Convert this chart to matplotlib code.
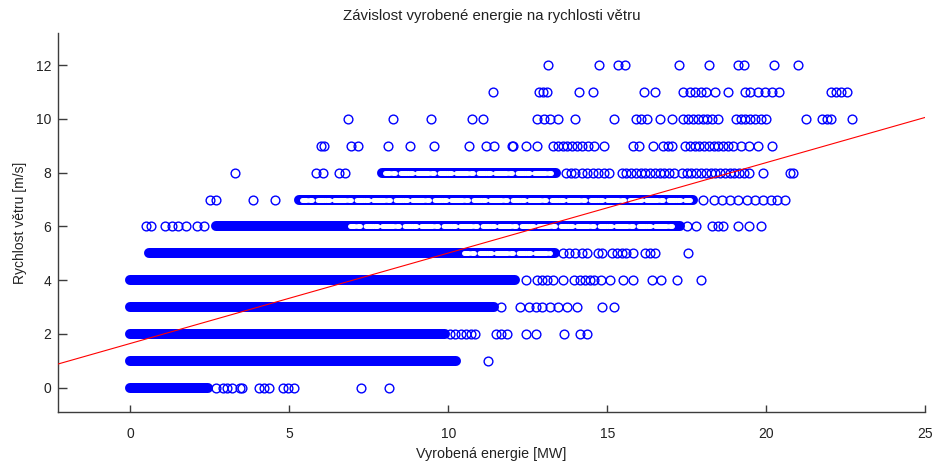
import matplotlib
matplotlib.use("Agg")
import matplotlib.pyplot as plt
import numpy as np

plt.rcParams["font.family"] = ["Liberation Sans", "DejaVu Sans"]

# wind speed rows (m/s) that hold a dense, fully overlapping run of circles
dense_speed = [0, 1, 2, 3, 4, 5, 6, 7, 8]
dense_start = [0.0, 0.0, 0.0, 0.0, 0.0, 0.57, 2.7, 5.3, 7.9]
dense_end = [2.45, 10.25, 9.9, 11.45, 12.1, 13.35, 17.3, 17.7, 13.4]

# parts of those runs where the circles only partly overlap (outlines still visible)
semi_speed = [5, 6, 7, 8]
semi_start = [10.5, 6.9, 5.4, 8.0]
semi_end = [13.2, 17.2, 17.6, 13.3]

# separately visible measurements, energy [MW] for each wind speed
energy_v0 = [2.7, 2.9, 3.05, 3.2, 3.45, 3.5, 4.05, 4.2, 4.35, 4.8, 4.95, 5.15, 7.25, 8.15]
energy_v1 = [11.25]
energy_v2 = [10.05, 10.2, 10.4, 10.55, 10.7, 10.85, 11.5, 11.65, 11.85, 12.45, 12.75,
             13.65, 14.15, 14.35]
energy_v3 = [11.65, 12.25, 12.55, 12.75, 12.95, 13.2, 13.45, 13.75, 14.05, 14.85, 15.2]
energy_v4 = [12.45, 12.8, 12.95, 13.1, 13.3, 13.6, 13.95, 14.15, 14.3, 14.45, 14.6, 14.8,
             15.1, 15.5, 15.8, 16.4, 16.7, 17.2, 17.95]
energy_v5 = [13.6, 13.8, 14.0, 14.2, 14.35, 14.7, 14.85, 15.15, 15.3, 15.45, 15.6, 15.8,
             16.2, 16.35, 16.5, 17.55]
energy_v6 = [0.5, 0.65, 1.1, 1.3, 1.5, 1.75, 2.1, 2.3, 17.5, 17.8, 18.3, 18.5, 18.65,
             19.1, 19.45, 19.85]
energy_v7 = [2.5, 2.7, 3.85, 4.55, 18.0, 18.35, 18.6, 18.85, 19.1, 19.4, 19.65, 19.9,
             20.15, 20.35, 20.6]
energy_v8 = [3.3, 5.85, 6.05, 6.55, 6.75, 13.7, 13.85, 14.0, 14.2, 14.35, 14.55, 14.7,
             14.9, 15.05, 15.45, 15.6, 15.75, 15.9, 16.05, 16.2, 16.35, 16.5, 16.65, 16.8,
             16.95, 17.1, 17.35, 17.5, 17.65, 17.8, 17.95, 18.1, 18.25, 18.4, 18.55, 18.7,
             18.85, 19.0, 19.15, 19.3, 19.45, 19.9, 20.75, 20.85]
energy_v9 = [6.0, 6.1, 6.95, 7.15, 8.1, 8.8, 9.55, 10.65, 11.2, 11.45, 12.0, 12.05, 12.45,
             12.8, 13.3, 13.45, 13.6, 13.75, 13.9, 14.05, 14.2, 14.4, 14.6, 14.9, 15.8,
             16.0, 16.45, 16.75, 16.9, 17.05, 17.45, 17.6, 17.75, 17.9, 18.05, 18.2,
             18.35, 18.5, 18.65, 18.8, 18.95, 19.2, 19.45, 19.75, 20.2]
energy_v10 = [6.85, 8.25, 9.45, 10.75, 11.1, 12.8, 13.0, 13.2, 13.45, 14.0, 15.2, 15.9,
              16.05, 16.25, 16.65, 17.05, 17.4, 17.55, 17.7, 17.85, 18.0, 18.15, 18.3,
              18.5, 19.05, 19.2, 19.35, 19.5, 19.65, 19.85, 20.0, 21.25, 21.75, 21.9,
              22.05, 22.7]
energy_v11 = [11.4, 12.85, 12.97, 13.1, 14.1, 14.55, 16.15, 16.5, 17.4, 17.6, 17.75,
              17.95, 18.1, 18.4, 18.8, 19.35, 19.5, 19.75, 19.95, 20.2, 20.4, 22.05,
              22.2, 22.35, 22.55]
energy_v12 = [13.15, 14.75, 15.35, 15.55, 17.25, 18.2, 19.1, 19.3, 20.25, 21.0]

# linear fit: wind speed = intercept + slope * energy
fit_slope = 0.336
fit_intercept = 1.65

rows = [energy_v0, energy_v1, energy_v2, energy_v3, energy_v4, energy_v5, energy_v6,
        energy_v7, energy_v8, energy_v9, energy_v10, energy_v11, energy_v12]

blue = "#0000ff"
axis_col = "#3c3c3c"

fig = plt.figure(figsize=(9.34, 4.72), dpi=100)
ax = fig.add_axes([0.0621, 0.1271, 0.9283, 0.8030])

# dense runs: circles overlap into a solid band
for v, x0, x1 in zip(dense_speed, dense_start, dense_end):
    ax.plot([x0, x1], [v, v], color=blue, lw=7.2, solid_capstyle="round", zorder=2)

# looser runs: let some white of the circle interiors show through
for v, x0, x1 in zip(semi_speed, semi_start, semi_end):
    ax.plot([x0, x1], [v, v], color="white", lw=3.6,
            dashes=(0.9, 0.6, 0.5, 1.1, 1.3, 0.5, 0.6, 0.9, 1.0, 0.4),
            dash_capstyle="round", zorder=2.5)

for v, xs in enumerate(rows):
    ax.plot(xs, [v] * len(xs), "o", ms=6.3, mew=1.0, mfc="none", mec=blue,
            linestyle="none", zorder=3)

xlim = (-2.28, 25.0)
xl = np.array(xlim)
ax.plot(xl, fit_intercept + fit_slope * xl, color="#ff0000", lw=0.8, zorder=4)

ax.set_xlim(*xlim)
ax.set_ylim(-0.9, 13.19)
ax.set_xticks([0, 5, 10, 15, 20, 25])
ax.set_yticks([0, 2, 4, 6, 8, 10, 12])

for s in ["top", "right"]:
    ax.spines[s].set_visible(False)
for s in ["left", "bottom"]:
    ax.spines[s].set_color(axis_col)
    ax.spines[s].set_linewidth(1.0)
ax.tick_params(direction="in", length=6.5, width=1.0, color=axis_col,
               labelsize=10, labelcolor="#222222", pad=5)
ax.tick_params(axis="x", length=5, pad=11)

ax.set_title("Závislost vyrobené energie na rychlosti větru", fontsize=10.8,
             color="#222222", pad=9)
ax.set_xlabel("Vyrobená energie [MW]", fontsize=10.3, color="#222222", labelpad=4)
ax.set_ylabel("Rychlost větru [m/s]", fontsize=10, color="#222222", labelpad=6)

fig.savefig("out.png", dpi=100, facecolor="white")
